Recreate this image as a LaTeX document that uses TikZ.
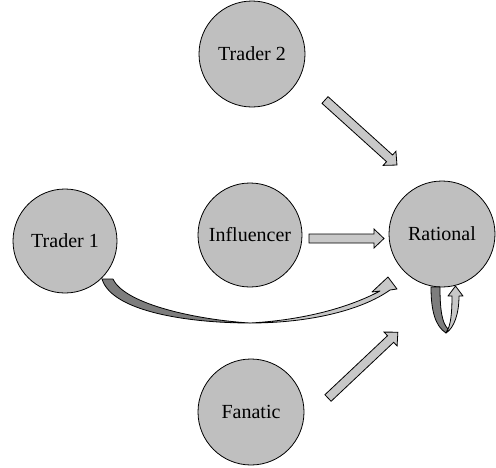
\documentclass[tikz,border=0pt]{standalone}
\usepackage{fontspec}
\setmainfont{Liberation Serif}
\definecolor{circgray}{RGB}{191,191,191}
\definecolor{arrgray}{RGB}{200,200,200}
\definecolor{darkgray2}{RGB}{125,125,125}
\tikzset{
  agent/.style={circle, draw=black, line width=0.8pt, fill=circgray, minimum size=#1, inner sep=0pt,
    font=\fontsize{20}{24}\selectfont},
  barrow/.style={draw=black, line width=0.8pt, fill=arrgray, line join=miter},
  darkband/.style={draw=black, line width=0.8pt, fill=darkgray2, line join=round},
}
\newcommand\blockarrow[3]{%
  \begin{scope}[shift={(#1)}, rotate=#2]
    \draw[barrow] (0,4.5) -- ({#3-10},4.5) -- ({#3-10},9.5) -- (#3,0) -- ({#3-10},-9.5) -- ({#3-10},-4.5) -- (0,-4.5) -- cycle;
  \end{scope}}
\begin{document}
\begin{tikzpicture}[x=1pt,y=-1pt]
\useasboundingbox (0,0) rectangle (496,467);
\node[agent=106pt] (t2) at (252,54) {Trader 2};
\node[agent=104pt] (t1) at (65,241) {Trader 1};
\node[agent=104pt] (inf) at (250,235) {Influencer};
\node[agent=106pt] (rat) at (442,234) {Rational};
\node[agent=106pt] (fan) at (251,412) {Fanatic};
% straight block arrows
\coordinate (a1) at (325,100);
\coordinate (a2) at (309,238.5);
\coordinate (a3) at (328,398);
\blockarrow{a1}{-42.1}{97}
\blockarrow{a2}{0}{75}
\blockarrow{a3}{43.3}{96}
% curved arrow Trader 1 -> Rational
\coordinate (c0) at (102,279);
\coordinate (c1) at (113,279);
\coordinate (cb) at (250,323);
\draw[darkband] (c0) .. controls (112,312) and (190,323) .. (cb)
   .. controls (200,320) and (125,305) .. (c1) -- cycle;
\draw[barrow, line join=round] (cb) .. controls (310,323) and (362,310) .. (390,290)
   -- (397,289) -- (388,277) -- (372,292) -- (380,291)
   .. controls (350,307) and (305,320) .. (cb) -- cycle;
% loop arrow on Rational
\coordinate (l0) at (431,287);
\coordinate (l1) at (440,287);
\coordinate (lb) at (446,333);
\draw[darkband] (l0) -- (l1) .. controls (440,310) and (442,323) .. (448,329)
   -- (lb) .. controls (435,326) and (431,310) .. cycle;
\draw[barrow, line join=round] (lb) .. controls (451,326) and (452,312) .. (452,296)
   -- (448,296) -- (455.5,286) -- (463,296) -- (459,296)
   .. controls (459,314) and (454,328) .. (lb) -- cycle;
\end{tikzpicture}
\end{document}
